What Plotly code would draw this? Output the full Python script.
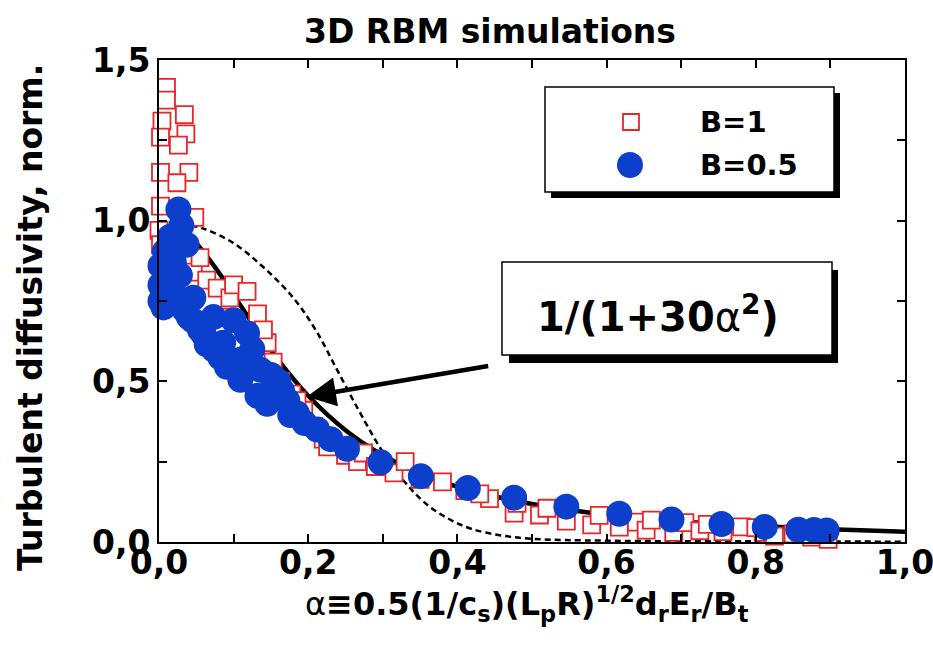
import plotly.graph_objects as go

# B = 1 runs (open red squares)
b1_alpha = [0.010, 0.010, 0.004, 0.034, 0.036, 0.026, 0.002, 0.002, 0.040, 0.024,
            0.002, 0.048, 0.000, 0.002, 0.046, 0.055, 0.064, 0.078, 0.095, 0.100,
            0.118, 0.132, 0.145, 0.153, 0.118, 0.163, 0.178, 0.194, 0.207, 0.220,
            0.226, 0.250, 0.266, 0.274, 0.290, 0.315, 0.330, 0.350, 0.380, 0.410,
            0.443, 0.476, 0.480, 0.510, 0.546, 0.580, 0.617, 0.640, 0.653, 0.690,
            0.705, 0.725, 0.756, 0.781, 0.810, 0.825, 0.850, 0.875, 0.897,
            0.430, 0.520, 0.590, 0.660, 0.735, 0.800, 0.860, 0.085, 0.140, 0.185]
b1_diff = [1.415, 1.375, 1.310, 1.330, 1.270, 1.235, 1.260, 1.150, 1.150, 1.118,
           1.045, 1.010, 0.970, 0.925, 0.840, 0.885, 0.815, 0.790, 0.760, 0.800,
           0.780, 0.710, 0.620, 0.560, 0.570, 0.500, 0.460, 0.410, 0.360, 0.320,
           0.296, 0.270, 0.250, 0.277, 0.235, 0.215, 0.250, 0.195, 0.187, 0.160,
           0.135, 0.090, 0.120, 0.084, 0.065, 0.053, 0.046, 0.062, 0.037, 0.030,
           0.060, 0.035, 0.032, 0.047, 0.030, 0.018, 0.025, 0.015, 0.008,
           0.150, 0.105, 0.083, 0.068, 0.055, 0.045, 0.040, 0.700, 0.660, 0.440]

# B = 0.5 runs (filled blue circles)
b05_alpha = [0.026, 0.030, 0.037, 0.008, 0.002, 0.002, 0.002, 0.006, 0.020, 0.028,
             0.046, 0.040, 0.073, 0.100, 0.118, 0.055, 0.064, 0.073, 0.082, 0.091,
             0.109, 0.109, 0.136, 0.150, 0.132, 0.145, 0.172, 0.176, 0.185, 0.212,
             0.252, 0.297, 0.351, 0.414, 0.476, 0.546, 0.617, 0.687, 0.754, 0.812,
             0.857, 0.878, 0.895,
             0.015, 0.012, 0.010, 0.025, 0.035, 0.045, 0.060, 0.086, 0.125, 0.160,
             0.165, 0.195, 0.230]
b05_diff = [1.035, 0.985, 0.925, 0.905, 0.860, 0.800, 0.750, 0.730, 0.870, 0.830,
            0.760, 0.700, 0.700, 0.690, 0.650, 0.660, 0.615, 0.600, 0.575, 0.545,
            0.567, 0.505, 0.536, 0.520, 0.455, 0.430, 0.440, 0.395, 0.400, 0.350,
            0.290, 0.248, 0.205, 0.168, 0.138, 0.110, 0.088, 0.070, 0.056, 0.047,
            0.038, 0.037, 0.036,
            0.950, 0.830, 0.780, 0.760, 0.720, 0.690, 0.645, 0.620, 0.600, 0.500,
            0.470, 0.370, 0.320]

# fitted curve 1/(1+30 alpha^2)
fit_alpha = [0.028, 0.05, 0.08, 0.10, 0.13, 0.16, 0.20, 0.25, 0.30, 0.35,
             0.40, 0.50, 0.60, 0.70, 0.80, 0.90, 1.00]
fit_diff = [0.977, 0.930, 0.839, 0.769, 0.664, 0.566, 0.455, 0.348, 0.270, 0.214,
            0.172, 0.118, 0.085, 0.064, 0.050, 0.040, 0.032]

# dashed reference curve
ref_alpha = [0.030, 0.060, 0.100, 0.140, 0.180, 0.210, 0.240, 0.270, 0.300, 0.330,
             0.360, 0.390, 0.420, 0.460, 0.500, 0.600, 0.800, 1.000]
ref_diff = [0.990, 0.975, 0.930, 0.855, 0.760, 0.660, 0.530, 0.400, 0.280, 0.185,
            0.115, 0.070, 0.040, 0.020, 0.010, 0.004, 0.002, 0.001]

x_ticks = [0.0, 0.2, 0.4, 0.6, 0.8, 1.0]
x_ticktext = ["0,0", "0,2", "0,4", "0,6", "0,8", "1,0"]
y_ticks = [0.0, 0.5, 1.0, 1.5]
y_ticktext = ["0,0", "0,5", "1,0", "1,5"]

legend_labels = ["B=1", "B=0.5"]
fit_label = "1/(1+30<span style='font-weight:normal'>α</span><sup>2</sup>)"
x_title = ("<span style='font-weight:normal'>α</span>≡0.5(1/c<sub>s</sub>)(L<sub>p</sub>R)"
           "<sup>1/2</sup>d<sub>r</sub>E<sub>r</sub>/B<sub>t</sub>")
y_title = "Turbulent diffusivity, norm."
chart_title = "3D RBM simulations"

RED = "#e8262a"
BLUE = "#0c3fcc"
FONT = "DejaVu Sans"

W, H = 933, 645
L, R, T, B = 159, 28, 60, 103
PW, PH = W - L - R, H - T - B


def px(x):
    return (x - L) / PW


def py(y):
    return (H - B - y) / PH


fig = go.Figure()

fig.add_trace(go.Scatter(x=ref_alpha, y=ref_diff, mode="lines", line_shape="spline",
                         line=dict(color="black", width=2.5, dash="6px,4px"),
                         showlegend=False, hoverinfo="skip"))
fig.add_trace(go.Scatter(x=fit_alpha, y=fit_diff, mode="lines", line_shape="spline",
                         line=dict(color="black", width=4.5),
                         showlegend=False, hoverinfo="skip"))
fig.add_trace(go.Scatter(x=b1_alpha, y=b1_diff, mode="markers", name=legend_labels[0],
                         cliponaxis=False, showlegend=False,
                         marker=dict(symbol="square", size=17, color="white",
                                     line=dict(color=RED, width=1.8))))
fig.add_trace(go.Scatter(x=b05_alpha, y=b05_diff, mode="markers", name=legend_labels[1],
                         cliponaxis=False, showlegend=False,
                         marker=dict(symbol="circle", size=26, color=BLUE,
                                     line=dict(width=0))))

shapes = []
# legend frame with drop shadow
lg = dict(x0=545, y0=87, x1=834, y1=192)
shapes.append(dict(type="rect", xref="paper", yref="paper",
                   x0=px(lg["x0"] + 6), x1=px(lg["x1"] + 6),
                   y0=py(lg["y1"] + 6), y1=py(lg["y0"] + 6),
                   fillcolor="black", line=dict(width=0)))
shapes.append(dict(type="rect", xref="paper", yref="paper",
                   x0=px(lg["x0"]), x1=px(lg["x1"]), y0=py(lg["y1"]), y1=py(lg["y0"]),
                   fillcolor="white", line=dict(color="black", width=1.5)))
# legend symbols
shapes.append(dict(type="rect", xref="paper", yref="paper",
                   x0=px(623), x1=px(639), y0=py(130), y1=py(114),
                   fillcolor="white", line=dict(color=RED, width=1.8)))
shapes.append(dict(type="circle", xref="paper", yref="paper",
                   x0=px(617), x1=px(643), y0=py(178), y1=py(152),
                   fillcolor=BLUE, line=dict(width=0)))
# formula box with drop shadow
bx = dict(x0=502, y0=262, x1=832, y1=355)
shapes.append(dict(type="rect", xref="paper", yref="paper",
                   x0=px(bx["x0"] + 7), x1=px(bx["x1"] + 6),
                   y0=py(bx["y1"] + 8), y1=py(bx["y0"] + 8),
                   fillcolor="black", line=dict(width=0)))
shapes.append(dict(type="rect", xref="paper", yref="paper",
                   x0=px(bx["x0"]), x1=px(bx["x1"]), y0=py(bx["y1"]), y1=py(bx["y0"]),
                   fillcolor="white", line=dict(color="black", width=1.5)))

annotations = [
    dict(text=legend_labels[0], xref="paper", yref="paper", x=px(698), y=py(122),
         xanchor="left", yanchor="middle", showarrow=False,
         font=dict(family=FONT, size=29, weight="bold", color="black")),
    dict(text=legend_labels[1], xref="paper", yref="paper", x=px(698), y=py(165),
         xanchor="left", yanchor="middle", showarrow=False,
         font=dict(family=FONT, size=29, weight="bold", color="black")),
    dict(text=fit_label, xref="paper", yref="paper", x=px(658), y=py(314),
         xanchor="center", yanchor="middle", showarrow=False,
         font=dict(family=FONT, size=40, weight="bold", color="black")),
    # arrow pointing at the fitted curve
    dict(text="", x=0.198, y=0.452, xref="x", yref="y", ax=183, ay=-31,
         showarrow=True, arrowhead=2, arrowsize=1.3, arrowwidth=4.5, arrowcolor="black"),
    dict(text=x_title, xref="paper", yref="paper", x=px(527), y=py(604),
         xanchor="center", yanchor="middle", showarrow=False,
         font=dict(family=FONT, size=32, weight="bold", color="black")),
    dict(text=y_title, xref="paper", yref="paper", x=px(30), y=py(318),
         xanchor="center", yanchor="middle", showarrow=False, textangle=-90,
         font=dict(family=FONT, size=33, weight="bold", color="black")),
]

axis_common = dict(showline=True, linecolor="black", linewidth=2, mirror="ticks",
                   ticks="inside", ticklen=8, tickwidth=1.5, tickcolor="black",
                   showgrid=False, zeroline=False, tickmode="array",
                   ticklabeloverflow="allow", automargin=False,
                   tickfont=dict(family=FONT, size=33, weight="bold", color="black"))

fig.update_layout(
    width=W, height=H,
    margin=dict(l=L, r=R, t=T, b=B, autoexpand=False),
    paper_bgcolor="white", plot_bgcolor="white",
    title=dict(text=chart_title, x=490 / W, y=1 - 31 / H, xanchor="center",
               yanchor="middle", xref="container", yref="container",
               font=dict(family=FONT, size=33, weight="bold", color="black")),
    xaxis=dict(range=[0, 1.0], tickvals=x_ticks, ticktext=x_ticktext,
               ticklabelstandoff=-10,
               minor=dict(dtick=0.1, tick0=0, ticks="inside", ticklen=8, tickwidth=1.5,
                          tickcolor="black"),
               **axis_common),
    yaxis=dict(range=[0, 1.5], tickvals=y_ticks, ticktext=y_ticktext,
               minor=dict(dtick=0.25, tick0=0, ticks="inside", ticklen=8, tickwidth=1.5,
                          tickcolor="black"),
               **axis_common),
    shapes=shapes,
    annotations=annotations,
    showlegend=False,
)

fig.write_html("out.html")
